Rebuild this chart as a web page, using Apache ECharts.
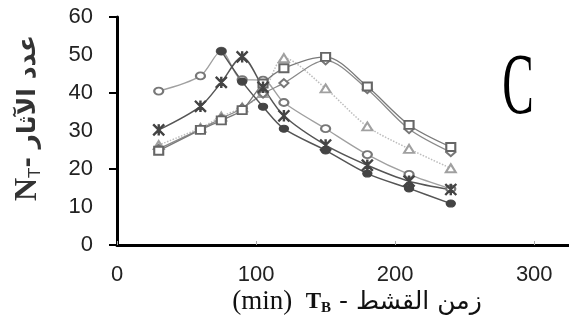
<!DOCTYPE html>
<html>
<head>
<meta charset="utf-8">
<script src="https://cdn.jsdelivr.net/npm/echarts@6/dist/echarts.min.js"></script>
<style>
  html, body { margin: 0; padding: 0; background: #fff; }
  #chart { width: 569px; height: 325px; }
</style>
</head>
<body>
<div id="chart"></div>
<script>
// time of stripping (min)
var times = [30, 60, 75, 90, 105, 120, 150, 180, 210, 240];

// number of tracks N_T, one array per curve
var openCircle   = [40.5, 44.5, 51, 43.5, 43.4, 37.5, 30.6, 23.8, 18.6, 14.8];
var filledCircle = [null, null, 51, 43, 36.4, 30.6, 24.9, 18.8, 14.9, 10.9];
var stars        = [30.3, 36.5, 42.8, 49.5, 41.5, 34, 26.3, 21, 16.8, 14.6];
var triangles    = [26.3, 30.8, 33.8, 36.2, 40, 49.2, 41.2, 31.2, 25.3, 20.2];
var squares      = [24.8, 30.3, 32.8, 35.5, 42.5, 46.5, 49.5, 41.7, 31.6, 25.8];
var diamonds     = [25.3, 30.5, 33.3, 36, 39.8, 42.6, 48.6, 41, 30.5, 24.4];

var xTicks = [0, 100, 200, 300];
var yTicks = [0, 10, 20, 30, 40, 50, 60];

var asterisk = 'path://M-0.6,-5 L0.6,-5 L0.6,5 L-0.6,5 Z ' +
    'M-5.4,-4.6 L-4.6,-5.4 L5.4,4.6 L4.6,5.4 Z ' +
    'M4.6,-5.4 L5.4,-4.6 L-4.6,5.4 L-5.4,4.6 Z';

function pairs(arr) {
    return times.map(function (t, i) { return [t, arr[i]]; });
}

function makeSeries(arr, symbol, size, lineColor, markColor, lineType, width) {
    return {
        type: 'line',
        data: pairs(arr),
        smooth: 0.3,
        symbol: symbol,
        symbolSize: size,
        lineStyle: { color: lineColor, width: width, type: lineType },
        itemStyle: { color: markColor, borderColor: markColor, borderWidth: 1.2 },
        z: 3
    };
}

var chart = echarts.init(document.getElementById('chart'));

var option = {
    backgroundColor: '#fff',
    animation: false,
    grid: { left: 117, right: 0, top: 17, bottom: 80 },
    xAxis: {
        type: 'value',
        min: 0,
        max: 325,
        interval: 100,
        axisLine: { show: true, lineStyle: { color: '#000', width: 3 } },
        axisTick: { show: true, inside: true, length: 4, lineStyle: { color: '#aaa', width: 1 } },
        axisLabel: {
            margin: 19,
            showMaxLabel: false,
            color: '#222',
            fontSize: 22,
            fontFamily: 'Liberation Sans',
            formatter: function (v) { return xTicks.indexOf(v) >= 0 ? String(v) : ''; }
        },
        splitLine: { show: false }
    },
    yAxis: [{
        type: 'value',
        min: 0,
        max: 60,
        interval: 10,
        axisLine: { show: true, lineStyle: { color: '#000', width: 3 } },
        axisTick: { show: false },
        axisLabel: {
            margin: 24,
            color: '#222',
            fontSize: 22,
            fontFamily: 'Liberation Sans',
            formatter: function (v) { return yTicks.indexOf(v) >= 0 ? String(v) : ''; }
        },
        splitLine: { show: false }
    }, {
        type: 'value',
        position: 'left',
        min: 0,
        max: 60,
        interval: 20,
        axisLine: { show: false },
        axisTick: { show: true, length: 8, lineStyle: { color: '#000', width: 2 } },
        axisLabel: { show: false },
        splitLine: { show: false }
    }],
    series: [
        makeSeries(openCircle, 'emptyCircle', [9, 7], '#a0a0a0', '#777', 'solid', 1.3),
        makeSeries(triangles, 'emptyTriangle', [10, 8], '#bdbdbd', '#a0a0a0', 'dotted', 1.5),
        makeSeries(diamonds, 'emptyDiamond', [9, 8], '#8a8a8a', '#777', 'solid', 1.3),
        makeSeries(squares, 'emptyRect', [9, 8], '#7a7a7a', '#666', 'solid', 1.3),
        makeSeries(stars, asterisk, [11, 11], '#555', '#444', 'solid', 1.5),
        makeSeries(filledCircle, 'circle', [9, 7], '#555', '#444', 'solid', 1.5)
    ],
    graphic: [{
        type: 'text',
        x: 28,
        y: 118,
        rotation: Math.PI / 2,
        style: {
            text: '{n|N}{t|T}{a|- عدد الآثار}',
            align: 'center',
            verticalAlign: 'middle',
            rich: {
                n: { fontSize: 32, fontFamily: 'Liberation Serif', fontWeight: 'bold', fill: '#333' },
                t: { fontSize: 17, fontFamily: 'Liberation Sans', fill: '#333', verticalAlign: 'bottom' },
                a: { fontSize: 25, fontFamily: 'DejaVu Sans', fontWeight: 'bold', fill: '#333' }
            }
        }
    }, {
        type: 'text',
        x: 357,
        y: 302,
        style: {
            text: '{p|(min)  }{t|T}{b|B}{a| - زمن القشط}',
            align: 'center',
            verticalAlign: 'middle',
            rich: {
                p: { fontSize: 27, fontFamily: 'Liberation Serif', fill: '#111' },
                t: { fontSize: 23, fontFamily: 'Liberation Serif', fontWeight: 'bold', fill: '#111' },
                b: { fontSize: 15, fontFamily: 'Liberation Serif', fontWeight: 'bold', fill: '#111', verticalAlign: 'bottom' },
                a: { fontSize: 25, fontFamily: 'DejaVu Sans', fill: '#111' }
            }
        }
    }, {
        type: 'text',
        x: 518,
        y: 90,
        scaleX: 0.55,
        style: {
            text: 'C',
            align: 'center',
            verticalAlign: 'middle',
            fontSize: 86,
            fontFamily: 'Liberation Serif',
            fill: '#000'
        }
    }]
};

chart.setOption(option);
</script>
</body>
</html>
